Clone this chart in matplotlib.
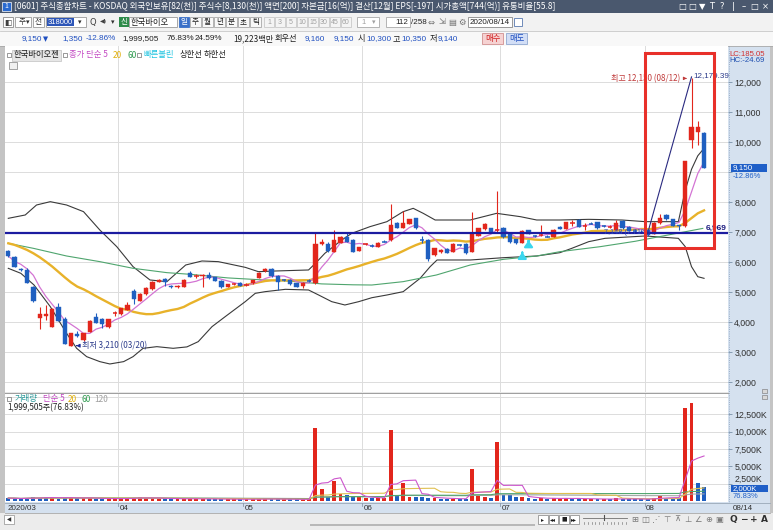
import matplotlib
matplotlib.use("Agg")
import matplotlib.pyplot as plt
from matplotlib.patches import Rectangle
from matplotlib.transforms import blended_transform_factory
import numpy as np
import pandas as pd

plt.rcParams['font.family'] = ['Noto Sans CJK KR', 'DejaVu Sans']

# ---------------- data ----------------
opens = [6390,6170,5780,5740,5170,4130,4200,3850,4500,4110,
         3220,3620,3410,3690,4190,4100,3830,4280,4270,4410,
         5040,4720,4940,5100,5350,5440,5200,5170,5190,5630,
         5530,5540,5580,5500,5380,5190,5260,5320,5250,5300,
         5470,5700,5760,5560,5420,5410,5300,5210,5400,5320,
         6610,6610,6360,6660,6830,6760,6380,6600,6550,6520,
         6700,6740,7300,7150,7280,7460,6760,6740,6240,6330,
         6440,6350,6590,6610,6350,6880,7110,7130,7060,7150,
         6960,6760,6650,7070,6880,6900,6870,6850,7180,7110,
         7300,7410,7180,7310,7330,7220,7180,7080,7390,7190,
         7050,7020,7080,6950,7300,7580,7430,7230,7220,10080,
         10350,10300]
highs = [6420,6200,5820,5800,5200,4500,4560,4460,4630,4160,
         3640,3700,3650,4070,4300,4150,4120,4380,4490,4680,
         5100,4960,5160,5380,5440,5470,5250,5250,5450,5700,
         5600,5600,5690,5520,5400,5290,5300,5340,5300,5420,
         5680,5800,5800,5580,5450,5430,5320,5340,5430,6970,
         6780,6660,7060,6870,7020,6780,6520,6640,6600,6670,
         6740,7940,7350,7720,7450,7480,6870,6760,6480,6430,
         6460,6630,6620,6630,7660,7150,7300,7150,8390,7170,
         6980,6780,7070,7090,6920,7240,6900,7100,7200,7350,
         7420,7430,7300,7330,7350,7250,7230,7410,7400,7200,
         7100,7060,7100,7340,7610,7600,7450,7250,9360,12150,
         10700,10350]
lows = [6180,5830,5700,5300,4690,3770,4080,3830,4030,3260,
        3210,3500,3380,3670,3970,3800,3810,4200,4250,4400,
        4600,4700,4920,5080,5330,5200,5130,5140,5180,5500,
        5480,5190,5450,5370,5150,5170,5240,5200,5200,5290,
        5460,5690,5520,5080,5380,5250,5170,5150,5340,5280,
        6560,6350,6340,6640,6680,6340,6360,6560,6500,6500,
        6660,6720,7130,7130,7260,7110,6640,6050,6220,6310,
        6300,6340,6550,6280,6330,6860,7090,6980,7000,6810,
        6650,6610,6640,6950,6840,6880,6830,6840,7100,7100,
        7200,7170,7080,7270,7120,7180,7150,7060,7120,7030,
        7000,6960,6880,6940,7280,7420,7200,7080,7180,9800,
        9900,9140]
closes = [6210,5850,5740,5320,4710,4270,4260,4440,4050,3280,
          3630,3560,3630,4050,3990,3950,4100,4300,4470,4580,
          4770,4940,5130,5350,5410,5330,5170,5200,5410,5520,
          5550,5580,5470,5390,5190,5270,5280,5220,5250,5410,
          5650,5770,5540,5360,5400,5270,5190,5320,5380,6610,
          6690,6380,6740,6850,6690,6360,6500,6610,6540,6650,
          6680,7240,7150,7300,7430,7130,6740,6110,6460,6410,
          6320,6610,6570,6320,6960,7130,7280,7000,7080,6830,
          6670,6630,7050,6960,6870,6920,6850,7070,7120,7330,
          7310,7190,7200,7290,7140,7210,7190,7300,7140,7050,
          7030,6990,6900,7320,7470,7430,7220,7200,9360,10520,
          10500,9150]
volumes_k = [420,380,300,450,520,480,610,430,360,500,
             530,450,380,420,360,330,300,350,420,380,
             500,520,380,430,360,300,350,320,300,350,
             310,280,300,270,260,280,250,240,250,270,
             300,320,280,260,240,250,270,220,240,10500,
             1700,650,2900,1000,800,650,550,450,380,420,
             380,10300,900,2650,650,600,520,450,420,350,
             300,350,280,320,4600,720,650,500,8500,900,
             800,600,520,450,350,400,300,450,350,400,
             330,320,300,280,300,260,250,380,300,280,
             260,240,280,450,720,500,420,380,13500,14100,
             2550,2000]
# 20-day MA for the first bars (needs data before the window)
ma20_head = [6633,6580,6500,6411,6300,6170,6020,5860,5680,5500,
             5330,5190,5100,4990,4870,4760,4650,4540,4450]
ma60_idx = [0,4,9.3,14.6,19.9,25.3,29,35,40,45,50,55,58,63,68.3,73.7,79,84.3,88,94.4,100,105,110.8]
ma60_val = [6633,6466,6210,6022,5800,5655,5600,5480,5420,5370,5280,5250,5243,5355,5577,5910,6099,6210,6354,6520,6700,6900,7130]
bbu_idx = [0,2.7,4.5,6.7,9.3,12,14.6,17.3,19.9,22.6,25.3,28.3,30.9,33.5,37.8,39.9,42.6,47.9,49,50.5,53.2,54.8,
           57.7,60.4,63,64.6,66.2,68.1,73.7,77.9,81.7,84.3,88,92.6,97.9,101.6,106.9,108,109,110,111]
bbu_val = [7466,7577,7910,8021,7910,7688,7077,6522,5855,5411,5355,5910,6044,6022,5832,5688,5710,5744,5966,6299,6743,6966,
           7188,7354,7688,7799,7632,7410,7410,7632,7521,7410,7410,7432,7410,7355,7355,8400,9100,9550,9800]
bbl_idx = [0,2,4.1,6.7,9.3,10.9,12.5,14.6,16.2,18.4,19.9,21.5,23.7,26.3,28.5,30.3,32.5,34.6,37.8,39.4,41,44.2,47.9,49.5,
           51.6,53.7,55.9,58,60.4,63,65.7,67.3,68.4,73.7,79,84.3,88,89.9,92.6,95.2,101.6,106.9,108,109,110,111]
bbl_val = [5799,5633,5244,4522,3633,3133,2855,2689,2611,2689,2855,3133,3188,3133,3180,3355,3855,4188,4688,4966,5022,5099,5077,4911,
           4688,4577,4688,4820,4910,5021,5466,5854,6077,6077,6154,6210,6321,6466,6688,6799,6877,6799,6521,5855,5521,5466]
support_level = 6969
trend_from = (102, 6969)
trend_to = (109, 12179.39)
month_labels = ['2020/03', '04', '05', '06', '07', '08']
month_start = [0, 18, 38, 57, 79, 102]
price_ticks = [2000,3000,4000,5000,6000,7000,8000,9000,10000,11000,12000]
vol_ticks = [2500,5000,7500,10000,12500]
signal_idx = [82, 83]

# ---------------- figure ----------------
W, H = 773, 530
fig = plt.figure(figsize=(W/100, H/100), dpi=100)
fig.patch.set_facecolor('#ececec')

def px_axes(l, t, r, b, z):
    return fig.add_axes([l/W, 1-b/H, (r-l)/W, (b-t)/H], zorder=z)

bg = px_axes(0, 0, W, H, 0); bg.set_xlim(0, W); bg.set_ylim(H, 0); bg.axis('off')
fg = px_axes(0, 0, W, H, 10); fg.set_xlim(0, W); fg.set_ylim(H, 0); fg.axis('off')

NUM = ['Liberation Sans Narrow', 'Liberation Sans', 'Noto Sans CJK KR']
SYM = ['DejaVu Sans', 'Noto Sans CJK KR']

def box(ax, x, y, w, h, fc, ec='none', lw=0.6, z=1):
    ax.add_patch(Rectangle((x, y), w, h, fc=fc, ec=ec, lw=lw, zorder=z))

def txt(x, y, s, c='#000000', fs=6, ha='left', va='center', fam=None, weight='normal', ax=None, z=3):
    ax = ax or fg
    kw = {}
    if fam:
        kw['family'] = fam
    return ax.text(x, y, s, color=c, fontsize=fs, ha=ha, va=va, fontweight=weight, zorder=z, **kw)

# backgrounds
box(bg, 0, 0, W, 13, '#4a586e')
box(bg, 0, 13, W, 18, '#f2f2f2')
box(bg, 0, 31, W, 15, '#f8f8f8')
bg.plot([0, W], [31, 31], color='#c8c8c8', lw=0.6)
bg.plot([0, W], [45.5, 45.5], color='#a8a8a8', lw=0.6)
box(bg, 0, 46, 5, 467, '#c4c4c4')
box(bg, 728, 46, 42, 457, '#d5e1ef')
box(bg, 5, 502, 765, 11, '#d5e1ef')
box(bg, 770, 46, 3, 484, '#c4c4c4')
box(bg, 0, 513, W, 17, '#ececec')
bg.plot([728.5, 728.5], [46, 502], color='#8aa0bc', lw=0.6, ls=':')
bg.plot([5, 770], [502.5, 502.5], color='#9aa8b8', lw=0.6)
bg.plot([5, 770], [513, 513], color='#a8a8a8', lw=0.6)

# ---------------- title bar ----------------
box(fg, 2, 2, 9, 9, '#2a6ad0', '#ffffff', 0.5)
txt(6.5, 6.5, '1', '#ffffff', 5, ha='center')
txt(14, 6.5, '[0601] 주식종합차트 - KOSDAQ 외국인보유[82(천)] 주식수[8,130(천)] 액면[200] 자본금[16(억)] '
    '결산[12월] EPS[-197] 시가총액[744(억)] 유통비율[55.8]', '#ffffff', 6.1)
for x, g in zip([682, 692, 702, 712, 722, 733, 744, 754, 765],
                ['□', '□', '▼', 'T', '?', '|', '–', '□', '×']):
    txt(x, 6.5, g, '#ffffff', 6, ha='center', fam=SYM)

# ---------------- toolbar row ----------------
ty = 22
box(fg, 3, 16.5, 10, 10, '#ffffff', '#8a8a8a')
txt(8, ty, '◧', '#404040', 5.5, ha='center', fam=SYM)
box(fg, 15, 16.5, 16, 10, '#ffffff', '#9a9a9a')
txt(19, ty, '주', '#303030', 5.5)
txt(27.5, ty, '▾', '#303030', 5, ha='center', fam=SYM)
box(fg, 33, 16.5, 11, 10, '#ffffff', '#9a9a9a')
txt(38.5, ty, '전', '#303030', 5.5, ha='center')
box(fg, 46, 16.5, 40, 10, '#ffffff', '#9a9a9a')
box(fg, 47, 17.5, 27, 8, '#2c55b8')
txt(48, ty, '318000', '#ffffff', 5.5, fam=NUM)
txt(80, ty, '▾', '#303030', 5, ha='center', fam=SYM)
txt(93, ty, 'Q', '#404040', 6, ha='center', fam=SYM)
txt(104, ty, '◀)', '#404040', 4.5, ha='center', fam=SYM)
txt(113, ty, '▾', '#303030', 5, ha='center', fam=SYM)
box(fg, 119, 16.5, 10, 10, '#2e8b4a')
txt(124, ty, '신', '#ffffff', 5.5, ha='center')
box(fg, 129, 16.5, 48, 10, '#ffffff', '#9a9a9a')
txt(131, ty, '한국바이오', '#202020', 6)
box(fg, 179, 16.5, 10, 10, '#3a70c8', '#3a70c8')
txt(184, ty, '일', '#ffffff', 5.5, ha='center')
for k, s in enumerate(['주', '월', '년', '분', '초', '틱']):
    box(fg, 190 + 12 * k, 16.5, 11, 10, '#f8f8f8', '#a8a8a8')
    txt(195.5 + 12 * k, ty, s, '#202020', 5.5, ha='center')
for k, s in enumerate(['1', '3', '5', '10', '15', '30', '45', '60']):
    box(fg, 264 + 11 * k, 16.5, 10, 10, '#f4f4f4', '#c8c8c8')
    txt(269 + 11 * k, ty, s, '#a0a0a0', 5, ha='center', fam=NUM)
box(fg, 357, 16.5, 22, 10, '#ffffff', '#a8a8a8')
txt(361, ty, '1', '#a0a0a0', 5.5, fam=NUM)
txt(374, ty, '▾', '#a0a0a0', 5, ha='center', fam=SYM)
box(fg, 386, 16.5, 24, 10, '#ffffff', '#a8a8a8')
txt(408, ty, '112', '#202020', 5.8, ha='right', fam=NUM)
txt(411, ty, '/258', '#202020', 5.8, fam=NUM)
for x, g in zip([431, 442, 452, 462], ['⇔', '⇲', '▤', '⚙']):
    txt(x, ty, g, '#707070', 6, ha='center', fam=SYM)
box(fg, 468, 16.5, 44, 10, '#ffffff', '#8a8a8a')
txt(470, ty, '2020/08/14', '#202020', 5.8, fam=NUM)
box(fg, 514, 17.5, 8, 8, '#ffffff', '#5a7ab0')

# ---------------- info row ----------------
iy = 39
fi = 5.9
txt(22, iy, '9,150', '#1f4fc0', fi, fam=NUM)
txt(43, iy, '▼', '#1f4fc0', 4.8, fam=SYM)
txt(62, iy, '1,350', '#1f4fc0', fi, fam=NUM)
txt(86, iy, '-12.86%', '#1f4fc0', fi, fam=NUM)
txt(122, iy, '1,999,505', '#202020', fi, fam=NUM)
txt(167, iy, '76.83%', '#202020', fi, fam=NUM)
txt(195, iy, '24.59%', '#202020', fi, fam=NUM)
txt(233, iy, '19,223백만', '#202020', fi)
txt(275, iy, '회우선', '#202020', fi)
txt(305, iy, '9,160', '#1f4fc0', fi, fam=NUM)
txt(334, iy, '9,150', '#1f4fc0', fi, fam=NUM)
txt(358, iy, '시', '#202020', fi)
txt(366, iy, '10,300', '#1f4fc0', fi, fam=NUM)
txt(393, iy, '고', '#202020', fi)
txt(401, iy, '10,350', '#1f4fc0', fi, fam=NUM)
txt(430, iy, '저', '#202020', fi)
txt(438, iy, '9,140', '#1f4fc0', fi, fam=NUM)
box(fg, 482, 33, 21, 11, '#f6d2d2', '#d09090')
txt(492.5, iy, '매수', '#d02020', 6, ha='center')
box(fg, 506, 33, 21, 11, '#d2def6', '#90a8d0')
txt(516.5, iy, '매도', '#1f4fc0', 6, ha='center')

# ---------------- price panel ----------------
X0, SP = 8.3, 6.268
def idx_at(px):
    return (px - X0) / SP
def val_at(py):
    return 7000 + (232.3 - py) * (1000 / 30.0)

ax = px_axes(5, 46, 728, 392, 2)
ax.set_xlim(idx_at(5), idx_at(728))
ax.set_ylim(val_at(392), val_at(46))
ax.set_facecolor('#ffffff')
for s in ax.spines.values():
    s.set_visible(False)
ax.set_xticks([])
ax.yaxis.tick_right()
ax.set_yticks(price_ticks)
# the 9,000 label is covered by the current-price box in the reference
ax.set_yticklabels(['' if t == 9000 else f'{t:,}' for t in price_ticks])
ax.tick_params(axis='y', length=3, width=0.6, color='#7890a8', labelsize=6.3, pad=1.5, labelcolor='#303030')
for lb in ax.get_yticklabels():
    lb.set_family(NUM)
ax.grid(axis='y', color='#dcdcdc', lw=0.7, zorder=0)
for m in month_start[1:]:
    ax.axvline(m - 0.5, color='#dcdcdc', lw=0.7, zorder=0)

n = len(closes)
xi = np.arange(n)
cs = pd.Series(closes, dtype=float)
ma5 = cs.rolling(5, min_periods=1).mean()
ma20 = cs.rolling(20).mean()
ma20.iloc[:len(ma20_head)] = ma20_head

ax.plot(bbu_idx, bbu_val, color='#3a3a3a', lw=0.8, zorder=2)
ax.plot(bbl_idx, bbl_val, color='#3a3a3a', lw=0.8, zorder=2)
ax.plot(ma60_idx, ma60_val, color='#4fa56e', lw=0.8, zorder=2)
ax.plot(xi, ma20, color='#e8b22a', lw=1.7, zorder=2)
ax.plot(xi, ma5, color='#d374d3', lw=0.9, zorder=2)
ax.axhline(support_level, color='#1c1ca0', lw=1.6, zorder=4)
ax.plot([trend_from[0], trend_to[0]], [trend_from[1], trend_to[1]], color='#2a2a80', lw=0.8, zorder=4)

RED, BLUE = '#e2261c', '#1f5fc0'
for i in range(n):
    o, h, l, c = opens[i], highs[i], lows[i], closes[i]
    col = RED if c >= o else BLUE
    ax.vlines(i, l, h, color=col, lw=0.8, zorder=3)
    if abs(c - o) < 25:
        ax.hlines(c, i - 0.36, i + 0.36, color=col, lw=1.1, zorder=3)
    else:
        ax.add_patch(Rectangle((i - 0.34, min(o, c)), 0.68, abs(c - o), fc=col, ec=col, lw=0.3, zorder=3))

for k, si in enumerate(signal_idx):
    base = lows[si] - 380 + 80 * k
    ax.annotate('', xy=(si, base + 170), xytext=(si, base - 40),
                arrowprops=dict(arrowstyle='-|>,head_width=0.25,head_length=0.35', color='#3ad6ee', lw=1.6),
                zorder=5)

# annotations
imax = int(np.argmax(highs))
imin = int(np.argmin(lows))
ax.annotate(f'최고 {highs[imax]:,} (08/12)', xy=(imax - 0.3, highs[imax] - 20), xytext=(imax - 1.8, highs[imax] - 20),
            ha='right', va='center', fontsize=5.8, color='#c03a3a',
            arrowprops=dict(arrowstyle='-|>,head_width=0.15,head_length=0.3', color='#c03a3a', lw=0.7), zorder=6)
ax.text(trend_to[0] + 0.3, trend_to[1] + 60, f'{trend_to[1]:,.2f}', fontsize=5.8, color='#2a3a8a',
        va='center', ha='left', family=NUM, zorder=6)
ax.annotate(f'최저 {lows[imin]:,} (03/20)', xy=(imin + 0.4, lows[imin] + 10), xytext=(imin + 1.8, lows[imin] + 10),
            ha='left', va='center', fontsize=5.8, color='#2a3a8a',
            arrowprops=dict(arrowstyle='-|>,head_width=0.18,head_length=0.35', color='#1a2a9a', lw=0.7), zorder=6)
ax.text(idx_at(727), support_level + 150, f'{support_level:,}', fontsize=6, color='#1c1c80', ha='right',
        va='center', fontweight='bold', family=NUM, zorder=6)
ax.text(idx_at(604), support_level + 30, '7,148 (7.71%)', fontsize=5.2, color='#2a4ac0', ha='left',
        va='center', family=NUM, zorder=6)

# legend line
def sq(x, y):
    box(fg, x, y - 1.8, 3.6, 3.6, '#ffffff', '#707070', 0.5)
ly = 55
sq(7, ly)
box(fg, 12, 49.5, 49, 11, '#e6e6e6', '#c0c0c0', 0.5)
txt(14, ly, '한국바이오젠', '#202020', 6)
sq(63, ly)
txt(69, ly, '종가 단순 5', '#c44cc4', 6)
txt(113, ly, '20', '#e0b010', 6)
txt(127, ly, '60', '#2f9a4f', 6)
sq(137, ly)
txt(143, ly, '빠른볼린', '#20c4e0', 6)
txt(180, ly, '상한선', '#202020', 6)
txt(204, ly, '하한선', '#202020', 6)
box(fg, 9, 62, 8, 7, '#f0f0f0', '#808080', 0.5)

# right side price labels
txt(729, 55, 'LC:185.05', '#d03030', 5.6, fam=NUM)
txt(729, 61, 'HC:-24.69', '#2050b0', 5.6, fam=NUM)
box(fg, 731, 164, 36, 7.5, '#1f5fc8')
txt(733, 167.8, f'{closes[-1]:,}', '#ffffff', 5.8, fam=NUM)
txt(733, 177, '-12.86%', '#1f5fc8', 5.5, fam=NUM)
box(fg, 762, 389, 5, 4, '#d8d8d8', '#707070', 0.4)

# user box
fg.add_patch(Rectangle((644.5, 53), 69.5, 195, fill=False, ec='#e8302a', lw=2.2, zorder=6))

# separator
bg.plot([5, 728], [393, 393], color='#a0a0a0', lw=0.8)

# ---------------- volume panel ----------------
vx = px_axes(5, 394, 728, 502, 2)
vx.set_xlim(idx_at(5), idx_at(728))
KPP = 144.5
vx.set_ylim(-(502 - 501) * KPP, (501 - 394) * KPP)
vx.set_facecolor('#ffffff')
for s in vx.spines.values():
    s.set_visible(False)
vx.set_xticks([])
vx.yaxis.tick_right()
vx.set_yticks(vol_ticks)
vx.set_yticklabels([f'{t:,}K' for t in vol_ticks])
vx.tick_params(axis='y', length=3, width=0.6, color='#7890a8', labelsize=6.3, pad=1.5, labelcolor='#303030')
for lb in vx.get_yticklabels():
    lb.set_family(NUM)
    if lb.get_text().startswith('2,500'):
        lb.set_va('bottom')
for t in vol_ticks + [15000]:
    vx.axhline(t, color='#dcdcdc', lw=0.7, zorder=0)
for m in month_start[1:]:
    vx.axvline(m - 0.5, color='#dcdcdc', lw=0.7, zorder=0)

vcol = []
for i in range(n):
    if i == 0:
        up = closes[i] >= opens[i]
    else:
        up = closes[i] >= closes[i - 1]
    vcol.append(RED if up else BLUE)
vx.bar(xi, volumes_k, width=0.62, color=vcol, zorder=2)
vs = pd.Series(volumes_k, dtype=float)
vx.plot(xi, vs.rolling(120, min_periods=1).mean(), color='#a8a8a8', lw=0.8, zorder=3)
vx.plot(xi, vs.rolling(60, min_periods=1).mean(), color='#4fa56e', lw=0.8, zorder=3)
vx.plot(xi, vs.rolling(20, min_periods=1).mean(), color='#e0c050', lw=0.8, zorder=3)
vx.plot(xi, vs.rolling(5, min_periods=1).mean(), color='#cc55cc', lw=0.8, zorder=3)

vy = 399
sq(7, vy)
txt(15, vy, '거래량', '#2a9a9a', 6)
txt(43, vy, '단순 5', '#c44cc4', 6)
txt(68, vy, '20', '#e0b010', 6)
txt(82, vy, '60', '#2f9a4f', 6)
txt(94, vy, '120', '#a0a0a0', 6)
txt(7, 407.5, f'{volumes_k[-1] * 1000 - 495:,}주(76.83%)', '#202020', 5.8)
box(fg, 762, 395, 5, 4, '#d8d8d8', '#707070', 0.4)
box(fg, 731, 485, 37, 7, '#1f5fc8')
txt(733, 488.5, f'{volumes_k[-1]:,}K', '#ffffff', 5.6, fam=NUM)
txt(733, 497, '76.83%', '#1f5fc8', 5.4, fam=NUM)

# x axis labels
bt = blended_transform_factory(vx.transData, fg.transData)
for m, lab in zip(month_start, month_labels):
    x0 = m - 0.5 if m > 0 else idx_at(6)
    fg.text(x0 + 0.25, 508, lab, transform=bt, fontsize=5.8, color='#303030', va='center', ha='left', family=NUM)
    if m > 0:
        fg.plot([m - 0.5, m - 0.5], [502.5, 506], transform=bt, color='#8a98aa', lw=0.6)
txt(733, 508, '08/14', '#303030', 5.8, fam=NUM)

# ---------------- bottom toolbar ----------------
box(fg, 4, 515, 10, 9, '#ffffff', '#909090', 0.5)
txt(9, 519.5, '◀', '#303030', 4, ha='center', fam=SYM)
box(fg, 310, 523.5, 225, 2.5, '#b8b8b8')
for k, g in enumerate(['▸', '◂◂', '■', '▸▸']):
    box(fg, 538 + 10.5 * k, 514.5, 9.5, 9.5, '#ffffff', '#808080', 0.5)
    txt(542.75 + 10.5 * k, 519.3, g, '#202020', 4.2, ha='center', fam=SYM)
fg.plot([583, 627], [517.5, 517.5], color='#707070', lw=0.6)
fg.plot([604, 604], [515, 520], color='#505050', lw=0.8)
for k in range(12):
    fg.plot([584 + 3.8 * k] * 2, [521.5, 523.5], color='#808080', lw=0.5)
for k, g in enumerate(['⊞', '◫', '⋰', '⊤', '⊼', '⊥', '∠', '⊕', '▣']):
    txt(635 + 10.5 * k, 519.5, g, '#7a7a7a', 6, ha='center', fam=SYM)
for k, g in enumerate(['Q', '−', '+', 'A']):
    txt(733 + 10.5 * k, 519.5, g, '#303030', 6.5, ha='center', fam=SYM, weight='bold')

fig.savefig('out.png', dpi=100, facecolor=fig.get_facecolor())
